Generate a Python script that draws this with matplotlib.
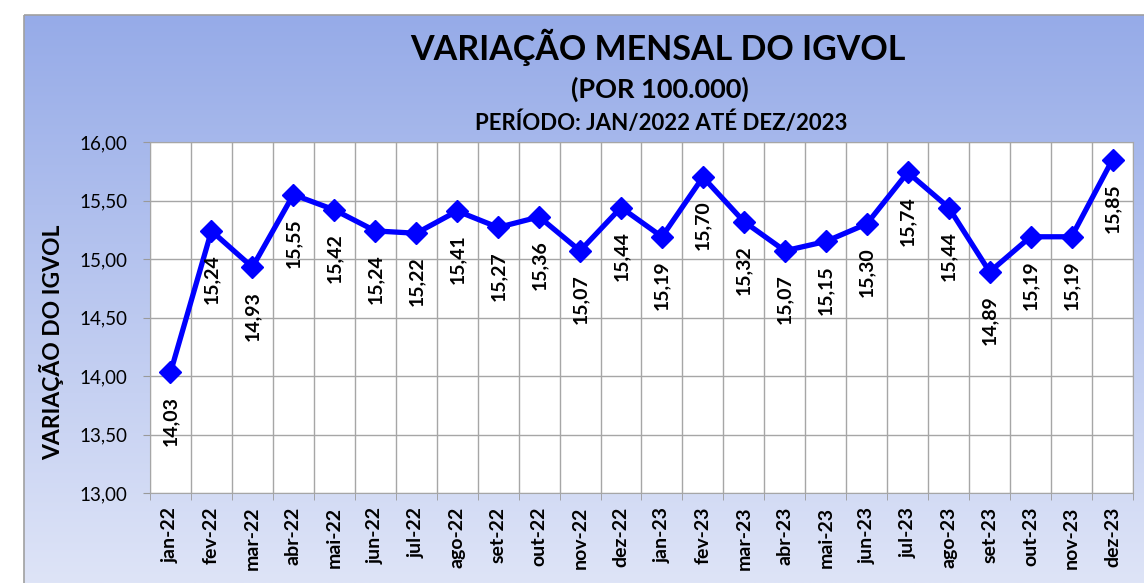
import matplotlib.pyplot as plt
import numpy as np
from matplotlib.patches import Rectangle

MONTHS = ["jan-22", "fev-22", "mar-22", "abr-22", "mai-22", "jun-22", "jul-22", "ago-22",
          "set-22", "out-22", "nov-22", "dez-22", "jan-23", "fev-23", "mar-23", "abr-23",
          "mai-23", "jun-23", "jul-23", "ago-23", "set-23", "out-23", "nov-23", "dez-23"]
VALUES = [14.03, 15.24, 14.93, 15.55, 15.42, 15.24, 15.22, 15.41, 15.27, 15.36, 15.07, 15.44,
          15.19, 15.70, 15.32, 15.07, 15.15, 15.30, 15.74, 15.44, 14.89, 15.19, 15.19, 15.85]
Y_TICKS = [13.0, 13.5, 14.0, 14.5, 15.0, 15.5, 16.0]

plt.rcParams["font.family"] = ["Lato", "DejaVu Sans"]

W, H = 1144, 583
fig = plt.figure(figsize=(W / 100, H / 100), dpi=100)

# gradient background of the chart area (frame starts at x=24, y=15)
bg = fig.add_axes([0, 0, 1, 1], zorder=0)
bg.set_xlim(0, W)
bg.set_ylim(H, 0)
bg.axis("off")
top_c = np.array([150, 171, 232]) / 255
bot_c = np.array([222, 228, 247]) / 255
t = np.linspace(0, 1, 256)[:, None]
grad = top_c[None, None, :] * (1 - t[:, :, None]) + bot_c[None, None, :] * t[:, :, None]
grad = np.repeat(grad, 2, axis=1)
bg.imshow(grad, extent=[24, W, H, 15], aspect="auto", interpolation="bilinear")
bg.add_patch(Rectangle((24, 15), W, H, fill=False, edgecolor="#A0A0A0", lw=1.2))

ax = fig.add_axes([150 / W, (H - 493) / H, (1133 - 150) / W, (493 - 142) / H], zorder=1)
ax.set_facecolor("white")
x = np.arange(len(MONTHS))
ax.plot(x, VALUES, color="#0000FF", lw=3.8, marker="D", markersize=11, zorder=3)

for xi, v in zip(x, VALUES):
    ax.annotate(f"{v:.2f}".replace(".", ","), (xi, v), xytext=(0, -17),
                textcoords="offset points", rotation=90, ha="center", va="top",
                fontsize=14, fontweight="bold", color="black", zorder=4)

ax.set_xlim(-0.5, len(MONTHS) - 0.5)
ax.set_ylim(13, 16)
ax.set_yticks(Y_TICKS)
ax.set_yticklabels([f"{v:.2f}".replace(".", ",") for v in Y_TICKS], fontsize=13.5)
ax.set_xticks(x)
ax.set_xticklabels(MONTHS, rotation=90, fontsize=14, fontweight="bold")
ax.set_xticks(np.arange(-0.5, len(MONTHS)), minor=True)
ax.tick_params(axis="x", which="major", length=0, pad=10)
ax.tick_params(axis="x", which="minor", length=5, color="#999999")
ax.tick_params(axis="y", length=5, color="#999999", pad=11)
ax.grid(True, axis="y", color="#A6A6A6", lw=1)
ax.grid(True, axis="x", which="minor", color="#A6A6A6", lw=1)
for s in ax.spines.values():
    s.set_color("#A6A6A6")

fig.text(52 / W, 1 - 342 / H, "VARIAÇÃO DO IGVOL", rotation=90, ha="center", va="center",
         fontsize=16.5, fontweight="bold")

fig.text(658 / W, 1 - 47 / H, "VARIAÇÃO MENSAL DO IGVOL", ha="center", va="center",
         fontsize=24.5, fontweight="bold")
fig.text(660 / W, 1 - 89 / H, "(POR 100.000)", ha="center", va="center",
         fontsize=19.5, fontweight="bold")
fig.text(661 / W, 1 - 123 / H, "PERÍODO: JAN/2022 ATÉ DEZ/2023", ha="center", va="center",
         fontsize=16, fontweight="bold")

fig.savefig("out.png", dpi=100, facecolor="white")
